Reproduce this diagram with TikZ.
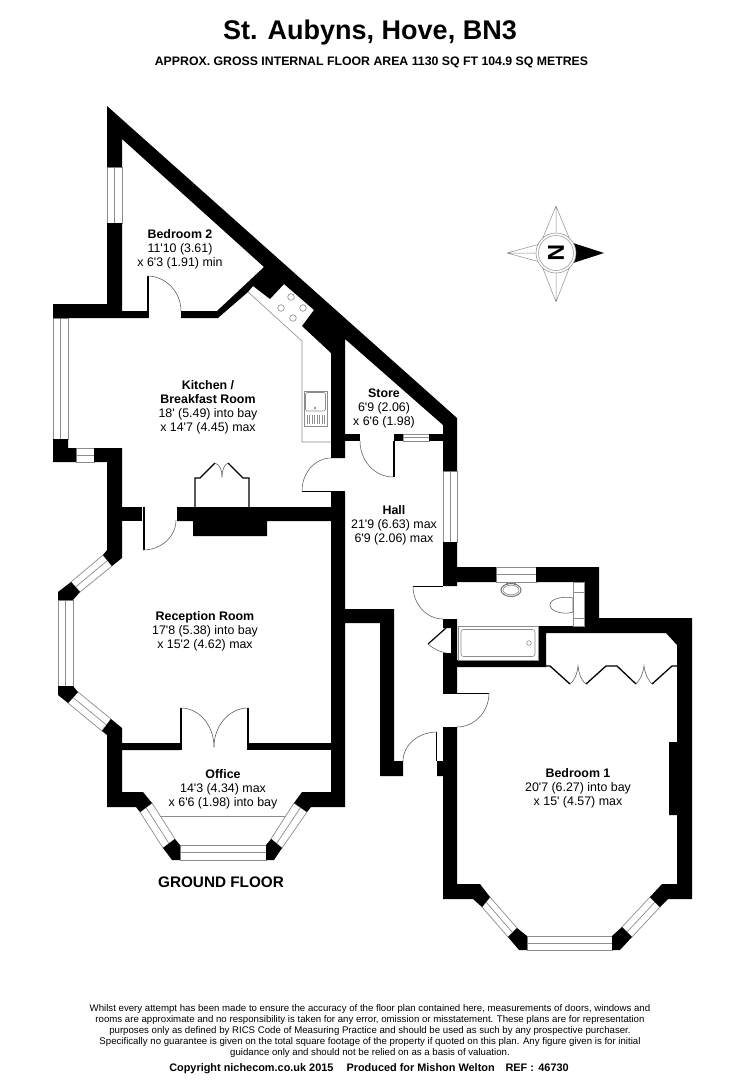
\documentclass[tikz,border=0pt]{standalone}
\usepackage{fontspec}
\usetikzlibrary{calc}
\newfontfamily\lab{Liberation Sans}
\definecolor{ln}{gray}{0.55}
\tikzset{
 x=1pt,y=-1pt,
 wall/.style={fill=black,draw=none},
 win/.style={fill=white,draw=ln,line width=0.7pt},
 fix/.style={draw=ln,line width=0.6pt,fill=none},
 swing/.style={draw=black!65,line width=0.55pt},
 leaf/.style={draw=black,line width=1.6pt},
 room/.style={font=\lab\fontsize{12.4}{14}\selectfont,align=center,inner sep=0pt,text=black},
 rose/.style={draw=black!45,line width=0.5pt},
}
\newcommand{\winq}[4]{%
 \draw[win] #1 -- #2 -- #3 -- #4 -- cycle;
 \draw[win] ($#1!.5!#4$) -- ($#2!.5!#3$);}
\newcommand{\qarc}[3]{\draw[swing] #1 .. controls ($#1!.55!#2$) and ($#3!.55!#2$) .. #3;}
\begin{document}
\begin{tikzpicture}
\path[use as bounding box,fill=white] (0,0) rectangle (740,1080);

% windows
\winq{(107,167)}{(107,223)}{(122,223)}{(122,167)}
\winq{(53,318)}{(53,439)}{(68,439)}{(68,318)}
\winq{(76,448)}{(94,448)}{(94,462)}{(76,462)}
\winq{(103,555)}{(71,582)}{(80,592)}{(112,566)}
\winq{(58,600)}{(58,686)}{(73,686)}{(73,600)}
\winq{(68,703)}{(102,731)}{(111,719)}{(78,692)}
\winq{(140,812)}{(163,848)}{(175,839)}{(152,803)}
\winq{(180,860)}{(266,860)}{(266,845)}{(180,845)}
\winq{(282,848)}{(307,812)}{(294,803)}{(271,839)}
\winq{(403,434)}{(429,434)}{(429,441)}{(403,441)}
\winq{(457,471)}{(457,542)}{(443,542)}{(443,471)}
\winq{(496,567)}{(536,567)}{(536,582)}{(496,582)}
\winq{(482,907)}{(508,937)}{(517,928)}{(490,897)}
\winq{(527,950)}{(612,950)}{(612,936)}{(527,936)}
\winq{(632,937)}{(660,907)}{(650,897)}{(622,927)}

% walls
\fill[wall] (107,106)--(457,418)--(457,471)--(443,471)--(443,425)--(345,339)--(345,458)--(331,458)--(331,353)--(302,326)--(314,310)--(284,284)--(270,299)--(253,286)--(248,292)--(218,318)--(181,318)--(181,311)--(217,311)--(264,267)--(122,139)--(122,167)--(107,167)--cycle;
\fill[wall] (107,223)--(122,223)--(122,311)--(147,311)--(147,318)--(68,318)--(68,318)--(53,318)--(53,304)--(107,304)--cycle;
% kitchen bay foot and west wall
\fill[wall] (53,439)--(68,439)--(68,448)--(76,448)--(76,462)--(53,462)--cycle;
\fill[wall] (94,448)--(122,448)--(122,558)--(112,566)--(103,555)--(107,550)--(107,462)--(94,462)--cycle;
% kitchen / reception wall, chimney
\fill[wall] (122,507)--(142,507)--(142,521)--(122,521)--cycle;
\fill[wall] (177,507)--(331,507)--(331,521)--(267,521)--(267,536)--(193,536)--(193,521)--(177,521)--cycle;
% reception bay blocks
\fill[wall] (71,582)--(80,592)--(73,600)--(58,600)--(58,592)--cycle;
\fill[wall] (58,686)--(73,686)--(78,692)--(68,703)--(58,695)--cycle;
% office
\fill[wall] (111,719)--(122,728)--(122,743)--(180,743)--(180,750)--(122,750)--(122,792)--(143,792)--(152,803)--(140,812)--(136,807)--(107,807)--(107,735)--(102,731)--cycle;
\fill[wall] (248,743)--(331,743)--(331,750)--(248,750)--cycle;
\fill[wall] (175,839)--(180,845)--(180,860)--(172,860)--(163,848)--cycle;
\fill[wall] (271,839)--(282,848)--(274,860)--(266,860)--(266,845)--cycle;
\fill[wall] (331,492)--(345,492)--(345,609)--(394,609)--(394,761)--(403,761)--(403,776)--(380,776)--(380,623)--(345,623)--(345,807)--(311,807)--(307,812)--(294,803)--(302,792)--(331,792)--cycle;
% store wall
\fill[wall] (345,434)--(360,434)--(360,441)--(345,441)--cycle;
\fill[wall] (394,434)--(403,434)--(403,441)--(394,441)--cycle;
\fill[wall] (429,434)--(443,434)--(443,441)--(429,441)--cycle;
% hall east and bathroom
\fill[wall] (443,542)--(457,542)--(457,567)--(496,567)--(496,582)--(457,582)--(457,586)--(443,586)--cycle;
\fill[wall] (536,567)--(599,567)--(599,618)--(692,618)--(692,899)--(668,899)--(660,907)--(650,897)--(662,884)--(677,884)--(677,815)--(669,815)--(669,742)--(677,742)--(677,645)--(666,633)--(546,633)--(546,667)--(457,667)--(457,660)--(538,660)--(538,626)--(584,626)--(584,582)--(536,582)--cycle;
\fill[wall] (443,619)--(457,619)--(457,693)--(443,693)--(443,653)--(451,653)--(451,628)--(443,628)--cycle;
\fill[wall] (443,727)--(457,727)--(457,884)--(480,884)--(490,897)--(482,907)--(473,899)--(443,899)--(443,776)--(437,776)--(437,761)--(443,761)--cycle;
% bay blocks bedroom 1
\fill[wall] (508,937)--(517,928)--(527,936)--(527,950)--(519,950)--cycle;
\fill[wall] (622,927)--(632,937)--(620,950)--(612,950)--(612,936)--cycle;

% door leaves
\draw[leaf] (148,276)--(148,318);
\draw[leaf] (144,507)--(144,550);
\draw[leaf] (394,441)--(394,477);
\draw[leaf] (181,708)--(181,750);
\draw[leaf] (248,708)--(248,750);
\draw[leaf] (436.5,732)--(436.5,761);
\draw[black,line width=0.8pt] (302,491)--(345,491);
\draw[black,line width=0.8pt] (413,586)--(443,586);
\draw[black,line width=0.8pt] (443,693.5)--(489,693.5);
\draw[black,line width=1.2pt] (446,628)--(428,644);
% door swings
\qarc{(147,276)}{(181,276)}{(181,311)}
\qarc{(302,491)}{(302,458)}{(331,458)}
\qarc{(360,441)}{(360,477)}{(393,477)}
\qarc{(143,550)}{(176,550)}{(176,520)}
\qarc{(181,708)}{(214,708)}{(214,747)}
\qarc{(248,708)}{(214,708)}{(214,747)}
\qarc{(413,586)}{(413,619)}{(443,619)}
\qarc{(489,693)}{(489,727)}{(457,727)}
\qarc{(403,761)}{(403,732)}{(437,732)}
\draw[swing] (428,644) .. controls (434,649) and (440,652) .. (446,653);

% bifold cupboard kitchen
\draw[black,line width=1.3pt] (195,507)--(195,478)--(200,478)--(215,463);
\draw[black,line width=1.3pt] (249,507)--(249,478)--(243,478)--(228,463);
\draw[swing] (215,463) .. controls (220,465) and (222,470) .. (222,477);
\draw[swing] (228,463) .. controls (224,465) and (222,470) .. (222,477);
% bifold cupboard bedroom 1
\draw[black,line width=1.3pt] (546,666)--(550,666)--(570,684);
\draw[black,line width=1.3pt] (586,684)--(606,666)--(617,666)--(636,684);
\draw[black,line width=1.3pt] (652,684)--(672,666)--(677,666);
\draw[swing] (570,684) .. controls (575,680) and (577,674) .. (578,666) .. controls (579,674) and (581,680) .. (586,684);
\draw[swing] (636,684) .. controls (640,680) and (643,674) .. (644,666) .. controls (645,674) and (648,680) .. (652,684);

% kitchen units
\draw[fix] (248,292)--(302,341)--(302,442)--(331,442);
\draw[fix] (304,391) rectangle (327,426);
\draw[fix,rounded corners=1.5pt] (305.5,392.5) rectangle (325.5,411);
\draw[fix,line width=0.4pt] (315,408) circle (1pt);
\foreach \sx in {307,309.5,...,325}{\draw[fix,line width=0.5pt] (\sx,415)--(\sx,424);}
\foreach \hx/\hy in {291/297,281/308,303/308,293/318}{\draw[fix,fill=white] (\hx,\hy) circle (3.3pt);}
% bathroom
\draw[fix] (458,626) rectangle (538,660);
\draw[fix,rounded corners=2.5pt] (461,629.5) rectangle (535,656.5);
\draw[fix] (529,643) circle (2.3pt);
\draw[draw=black!55,line width=1pt] (511,590) ellipse (10pt and 6.5pt);
\draw[fix] (511,590) ellipse (8pt and 4.8pt);
\fill[black!60] (507,584) circle (1.2pt) (515,584) circle (1.2pt);
\draw[fix] (573,582) rectangle (584,626);
\draw[fix] (573,592)--(584,592) (573,618)--(584,618);
\draw[swing,fill=white] (573,598) .. controls (565,596) and (550,598) .. (550,605) .. controls (550,612) and (565,615) .. (573,612) -- cycle;
% office bay line
\draw[fix] (160,816)--(285,816);

% compass
\coordinate (cc) at (556,253);
\coordinate (tN) at (556,206);
\coordinate (tS) at (556,302);
\coordinate (tW) at (507,253);
\coordinate (tE) at (604,253);
\draw[rose] (tN)--(542,240) (tN)--(570,240) (tN)--(cc);
\draw[rose] (tS)--(542,266) (tS)--(570,266) (tS)--(cc);
\draw[rose] (tW)--(540,244) (tW)--(540,262) (tW)--(cc);
\fill[black] (tE)--(570,242)--(574,253)--(570,264)--cycle;
\draw[rose,fill=white] (cc) circle (20pt);
\draw[rose] (cc) circle (17.5pt);
\node[font=\lab\bfseries\fontsize{23}{23}\selectfont,rotate=-90,inner sep=0pt] (north) at (cc) {N};

% rooms
\node[room] (bed2) at (180,249) {\textbf{Bedroom 2}\\11'10 (3.61)\\x 6'3 (1.91) min};
\node[room] (kit) at (208,407) {\textbf{Kitchen /}\\\textbf{Breakfast Room}\\18' (5.49) into bay\\x 14'7 (4.45) max};
\node[room] (rec) at (205,631) {\textbf{Reception Room}\\17'8 (5.38) into bay\\x 15'2 (4.62) max};
\node[room] (off) at (223,789) {\textbf{Office}\\14'3 (4.34) max\\x 6'6 (1.98) into bay};
\node[room] (store) at (384,408) {\textbf{Store}\\6'9 (2.06)\\x 6'6 (1.98)};
\node[room] (hall) at (394,525) {\textbf{Hall}\\21'9 (6.63) max\\6'9 (2.06) max};
\node[room] (bed1) at (578,788) {\textbf{Bedroom 1}\\20'7 (6.27) into bay\\x 15' (4.57) max};
\node[inner sep=0pt,font=\lab\bfseries\fontsize{15.3}{17}\selectfont] (gf) at (221,882) {GROUND FLOOR};

% titles
\node[inner sep=0pt,font=\lab\bfseries\fontsize{27}{29}\selectfont] (title) at (370,33) {St. Aubyns, Hove, BN3};
\node[inner sep=0pt,font=\lab\bfseries\fontsize{12.3}{14}\selectfont] (sub) at (371.5,62) {APPROX. GROSS INTERNAL FLOOR AREA 1130 SQ FT 104.9 SQ METRES};
\node[inner sep=0pt,align=center,font=\lab\fontsize{9.65}{10.9}\selectfont] (foot) at (370,1031) {Whilst every attempt has been made to ensure the accuracy of the floor plan contained here, measurements of doors, windows and\\rooms are approximate and no responsibility is taken for any error, omission or misstatement. These plans are for representation\\purposes only as defined by RICS Code of Measuring Practice and should be used as such by any prospective purchaser.\\Specifically no guarantee is given on the total square footage of the property if quoted on this plan. Any figure given is for initial\\guidance only and should not be relied on as a basis of valuation.};
\node[inner sep=0pt,font=\lab\bfseries\fontsize{10.9}{12}\selectfont] (copy) at (369,1069) {Copyright nichecom.co.uk 2015\hspace{1.2em}Produced for Mishon Welton\hspace{1em}REF :\hspace{0.4em}46730};
\end{tikzpicture}
\end{document}
